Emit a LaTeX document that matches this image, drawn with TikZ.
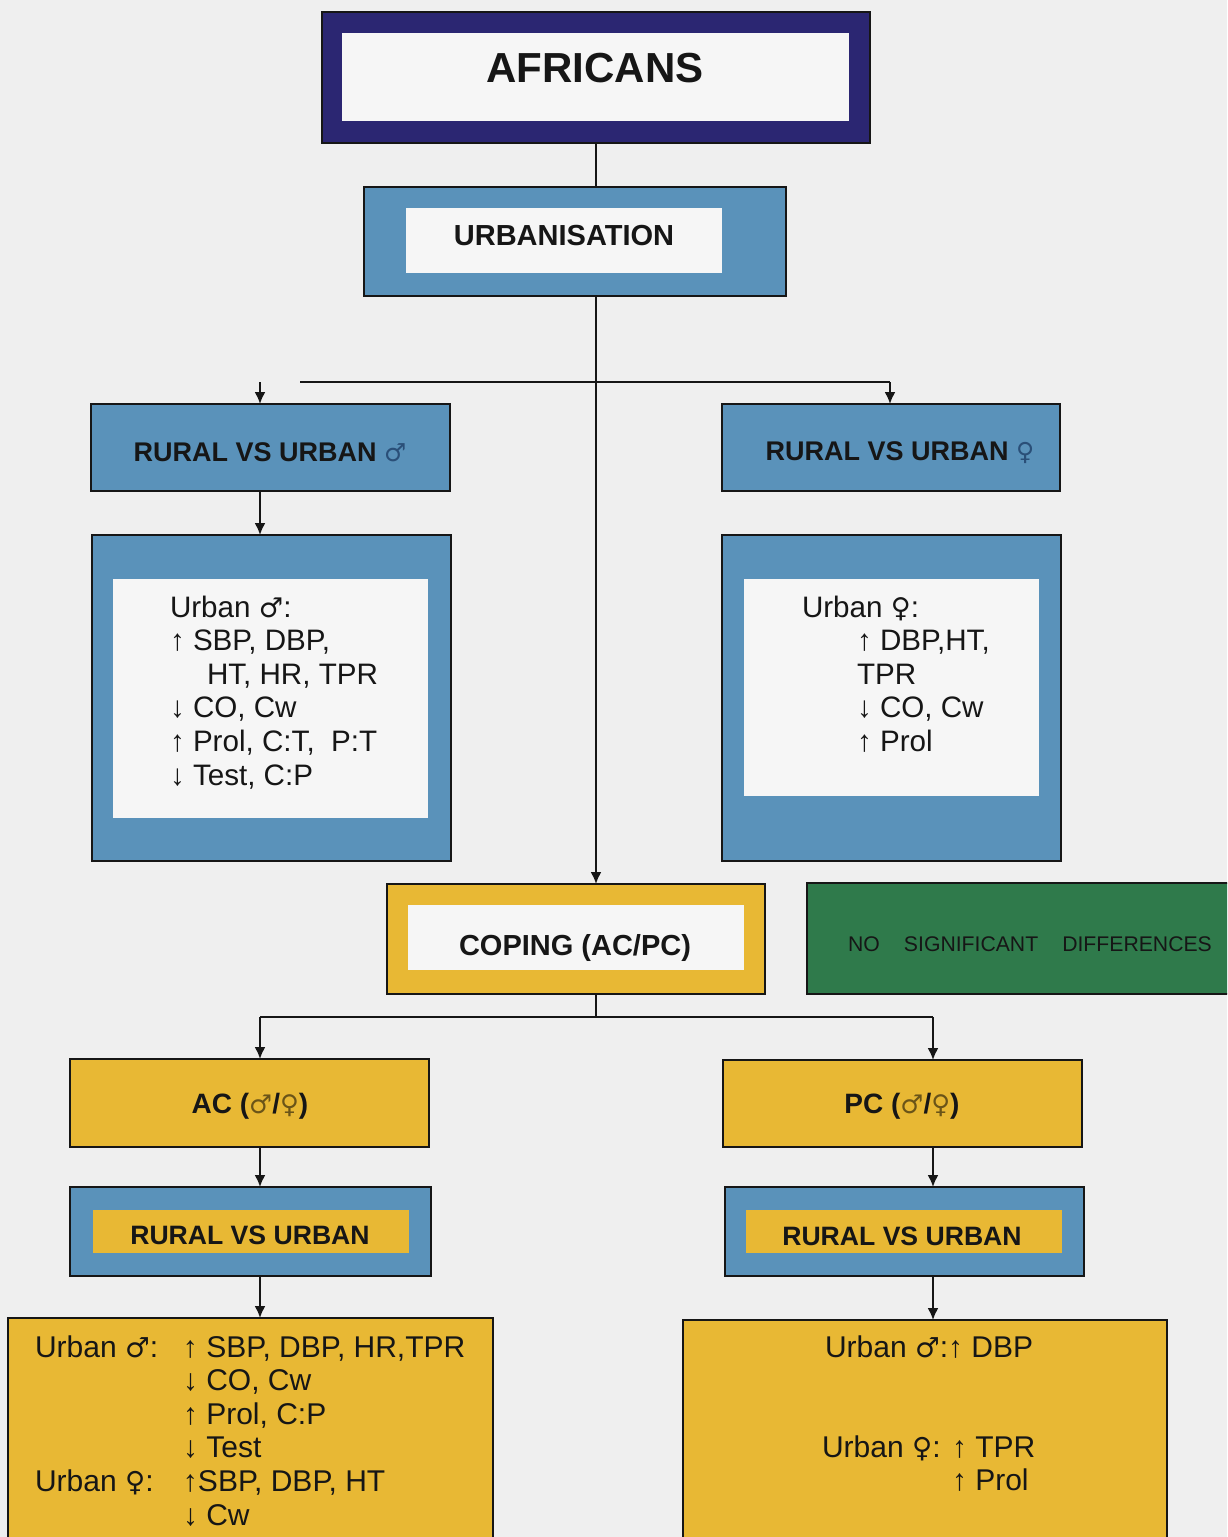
\documentclass[tikz,border=0pt]{standalone}
\usepackage{fontspec}
\setmainfont{Liberation Sans}
\newfontfamily\symf[Scale=0.92]{DejaVu Sans}
\newcommand{\msym}{{\symf\mdseries ♂}}
\newcommand{\fsym}{{\symf\mdseries ♀}}
\usetikzlibrary{arrows.meta}
\definecolor{navy}{HTML}{2B2672}
\definecolor{steel}{HTML}{5A92BA}
\definecolor{gold}{HTML}{E8B834}
\definecolor{dgreen}{HTML}{2F7A4B}
\definecolor{paper}{HTML}{EFEFEF}
\definecolor{innerw}{HTML}{F6F6F6}
\definecolor{ink}{HTML}{161616}
\definecolor{symblue}{HTML}{2A4F78}
\definecolor{symbrown}{HTML}{6A5418}
\tikzset{
  box/.style={rectangle, inner sep=0pt, outer sep=0pt, draw=ink, line width=0.8pt},
  inbox/.style={rectangle, inner sep=0pt, outer sep=0pt, draw=none},
  lbl/.style={inner sep=0pt, outer sep=0pt, text=ink, font=\fontsize{13.5}{16}\selectfont\bfseries},
  body/.style={inner sep=0pt, outer sep=0pt, text=ink, anchor=base west, font=\fontsize{14.8}{16.8}\selectfont},
  bodyb/.style={body, font=\fontsize{15}{16.8}\selectfont},
  conn/.style={line width=1pt, draw=ink},
  arr/.style={conn, -{Latex[length=6pt,width=5.5pt]}}
}
\begin{document}
\begin{tikzpicture}[x=0.5pt,y=-0.5pt]
\path[use as bounding box] (0,0) rectangle (1227,1537);
\clip (0,0) rectangle (1227,1537);
\fill[paper] (0,0) rectangle (1227,1537);

% AFRICANS
\node[box, fill=navy, minimum width=274pt, minimum height=65.5pt] (afro) at (596,77.5) {};
\node[inbox, fill=innerw, minimum width=253.5pt, minimum height=44pt] (afri) at (595.5,77) {};
\node[lbl, font=\fontsize{21}{25}\selectfont\bfseries] (afrt) at (595,68) {AFRICANS};

% URBANISATION
\node[box, fill=steel, minimum width=211pt, minimum height=54.5pt] (urbo) at (575,241.5) {};
\node[inbox, fill=innerw, minimum width=158pt, minimum height=32.5pt] (urbi) at (564,240.5) {};
\node[lbl, font=\fontsize{14.5}{17}\selectfont\bfseries] (urbt) at (564,236) {URBANISATION};

% RURAL VS URBAN male / female
\node[box, fill=steel, minimum width=179.5pt, minimum height=43.5pt] (rvm) at (270.5,447.5) {};
\node[lbl] (rvmt) at (270,452) {RURAL VS URBAN \textcolor{symblue}{\msym}};
\node[box, fill=steel, minimum width=169pt, minimum height=43.5pt] (rvf) at (891,447.5) {};
\node[lbl] (rvft) at (900,453) {RURAL VS URBAN \textcolor{symblue}{\fsym}};

% result boxes (blue)
\node[box, fill=steel, minimum width=179.5pt, minimum height=163pt] (tmo) at (271.5,698) {};
\node[inbox, fill=innerw, minimum width=157.5pt, minimum height=119.5pt] (tmi) at (270.5,698.5) {};
\node[body] (tmt) at (170,617) {\begin{tabular}[t]{@{}l@{}}
Urban \msym:\\
↑ SBP, DBP,\\
\hspace{18.5pt}HT, HR, TPR\\
↓ CO, Cw\\
↑ Prol, C:T,\ \ P:T\\
↓ Test, C:P
\end{tabular}};

\node[box, fill=steel, minimum width=169.5pt, minimum height=163pt] (tfo) at (891.5,698) {};
\node[inbox, fill=innerw, minimum width=147.5pt, minimum height=108.5pt] (tfi) at (891.5,687.5) {};
\node[body] (tft) at (802,617) {\begin{tabular}[t]{@{}l@{}}
Urban \fsym:\\
\hspace{27.5pt}↑ DBP,HT,\\
\hspace{27.5pt}TPR\\
\hspace{27.5pt}↓ CO, Cw\\
\hspace{27.5pt}↑ Prol
\end{tabular}};

% COPING
\node[box, fill=gold, minimum width=189pt, minimum height=55pt] (copo) at (576,939) {};
\node[inbox, fill=innerw, minimum width=168pt, minimum height=32.5pt] (copi) at (576,937.5) {};
\node[lbl, font=\fontsize{14.5}{17}\selectfont\bfseries] (copt) at (575,948) {COPING (AC/PC)};

% NO SIGNIFICANT DIFFERENCES
\node[box, fill=dgreen, minimum width=216.5pt, minimum height=55.5pt] (nsd) at (1023.5,938.5) {};
\node[lbl, font=\fontsize{10.6}{13}\selectfont, text=ink] (nsdt) at (1030,944) {NO\hspace{12pt}SIGNIFICANT\hspace{12pt}DIFFERENCES};

% AC / PC
\node[box, fill=gold, minimum width=179.5pt, minimum height=44pt] (ac) at (249.5,1103) {};
\node[lbl, font=\fontsize{14}{17}\selectfont\bfseries] (act) at (250,1106) {AC (\textcolor{symbrown}{\msym}/\textcolor{symbrown}{\fsym})};
\node[box, fill=gold, minimum width=179.5pt, minimum height=43.5pt] (pc) at (902.5,1103.5) {};
\node[lbl, font=\fontsize{14}{17}\selectfont\bfseries] (pct) at (902,1106) {PC (\textcolor{symbrown}{\msym}/\textcolor{symbrown}{\fsym})};

% RURAL VS URBAN (coping)
\node[box, fill=steel, minimum width=180.5pt, minimum height=44.5pt] (rvlo) at (250.5,1231.5) {};
\node[inbox, fill=gold, minimum width=158pt, minimum height=21.5pt] (rvli) at (251,1231.5) {};
\node[lbl, font=\fontsize{13.3}{16}\selectfont\bfseries] (rvlt) at (250,1235) {RURAL VS URBAN};
\node[box, fill=steel, minimum width=179.5pt, minimum height=44.5pt] (rvro) at (904.5,1231.5) {};
\node[inbox, fill=gold, minimum width=158pt, minimum height=21.5pt] (rvri) at (904,1231.5) {};
\node[lbl, font=\fontsize{13.3}{16}\selectfont\bfseries] (rvrt) at (902,1236) {RURAL VS URBAN};

% bottom result boxes
\node[box, fill=gold, minimum width=242.5pt, minimum height=116pt] (bl) at (250.5,1434) {};
\node[bodyb] (blt) at (35,1357) {\begin{tabular}[t]{@{}p{74pt}@{}l@{}}
Urban \msym: & ↑ SBP, DBP, HR,TPR\\
 & ↓ CO, Cw\\
 & ↑ Prol, C:P\\
 & ↓ Test\\
Urban \fsym: & ↑SBP, DBP, HT\\
 & ↓ Cw
\end{tabular}};

\node[box, fill=gold, minimum width=242pt, minimum height=115pt] (br) at (925,1435) {};
\node[bodyb] (brt1) at (825,1357) {Urban \msym:↑ DBP};
\node[bodyb] (brt2) at (822,1457) {\begin{tabular}[t]{@{}p{65pt}@{}l@{}}
Urban \fsym: & ↑ TPR\\
 & ↑ Prol
\end{tabular}};

% connector coordinates
\coordinate (cM) at (596,0);
\coordinate (cL) at (260,0);
\coordinate (cR) at (933,0);
\coordinate (hL) at (300,382);
\coordinate (hR) at (890,382);
\coordinate (aL) at (260,382);
\coordinate (j2) at (596,1017);
\coordinate (j2L) at (260,1017);
\coordinate (j2R) at (933,1017);

% connectors
\draw[conn] (cM |- afro.south) -- (cM |- urbo.north);
\draw[arr] (cM |- urbo.south) -- (cM |- copo.north);
\draw[conn] (hL) -- (hR);
\draw[arr] (hR) -- (hR |- rvf.north);
\draw[arr] (aL) -- (aL |- rvm.north);
\draw[arr] (cL |- rvm.south) -- (cL |- tmo.north);
\draw[conn] (cM |- copo.south) -- (j2);
\draw[conn] (j2L) -- (j2R);
\draw[arr] (j2L) -- (j2L |- ac.north);
\draw[arr] (j2R) -- (j2R |- pc.north);
\draw[arr] (cL |- ac.south) -- (cL |- rvlo.north);
\draw[arr] (cL |- rvlo.south) -- (cL |- bl.north);
\draw[arr] (cR |- pc.south) -- (cR |- rvro.north);
\draw[arr] (cR |- rvro.south) -- (cR |- br.north);
\end{tikzpicture}
\end{document}
